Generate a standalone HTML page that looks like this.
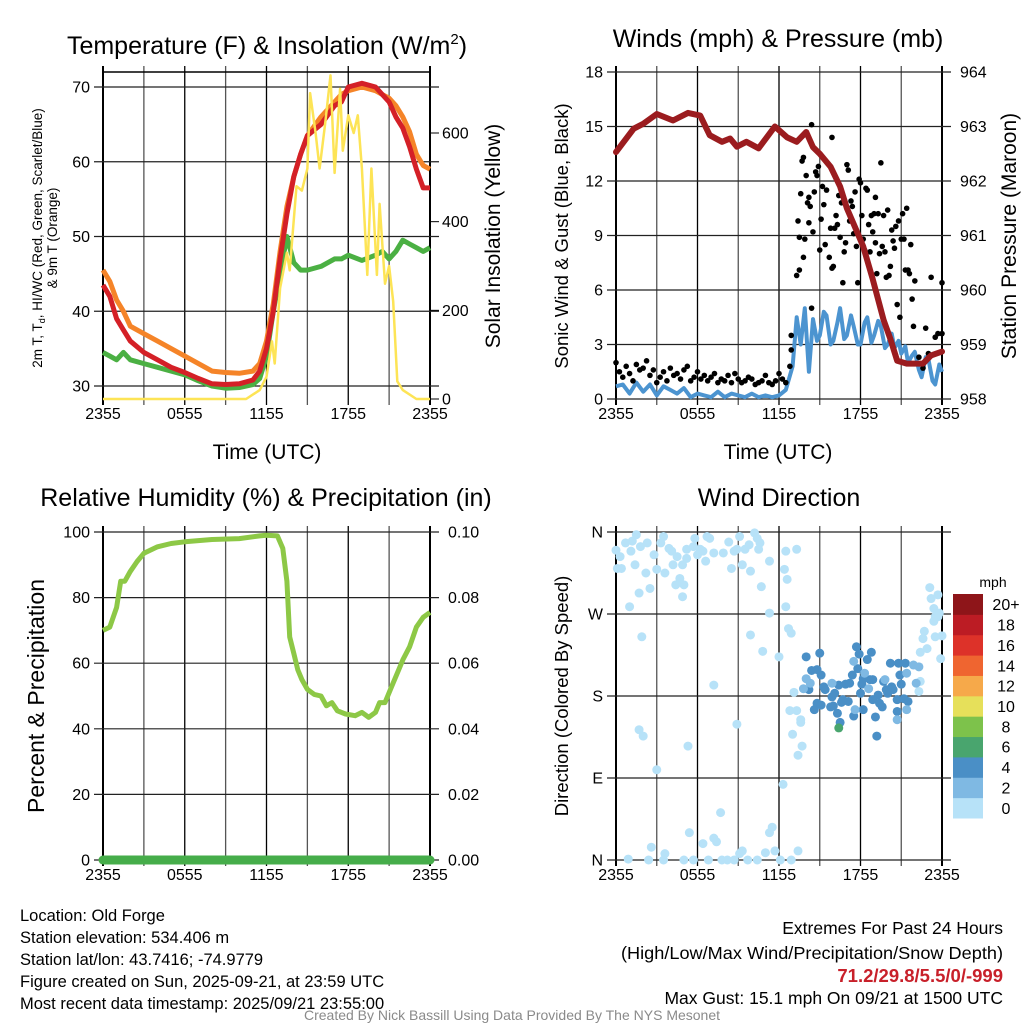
<!DOCTYPE html>
<html><head><meta charset="utf-8"><style>
html,body{margin:0;padding:0;background:#fff;}
svg{display:block;font-family:"Liberation Sans",sans-serif;}
</style></head><body>
<svg id="chart" width="1024" height="1024" viewBox="0 0 1024 1024" xmlns="http://www.w3.org/2000/svg">
<rect width="1024" height="1024" fill="#fff"/>
<g id="layer"></g>
<text x="267" y="54" font-size="25" text-anchor="middle">Temperature (F) &amp; Insolation (W/m<tspan dy="-10" font-size="15">2</tspan><tspan dy="10">)</tspan></text>
<text x="778" y="47" font-size="25" text-anchor="middle">Winds (mph) &amp; Pressure (mb)</text>
<text x="266" y="506" font-size="25" text-anchor="middle">Relative Humidity (%) &amp; Precipitation (in)</text>
<text x="779" y="506" font-size="25" text-anchor="middle">Wind Direction</text>
<text x="267" y="459" font-size="21" text-anchor="middle">Time (UTC)</text>
<text x="778" y="459" font-size="21" text-anchor="middle">Time (UTC)</text>
<g font-size="13.5" text-anchor="middle">
<text transform="translate(42,238) rotate(-90)">2m T, T<tspan font-size="9" dy="3">d</tspan><tspan dy="-3">, HI/WC (Red, Green, Scarlet/Blue)</tspan></text>
<text transform="translate(57,238) rotate(-90)">&amp; 9m T (Orange)</text>
</g>
<text transform="translate(500,236) rotate(-90)" font-size="21" text-anchor="middle">Solar Insolation (Yellow)</text>
<text transform="translate(568,236) rotate(-90)" font-size="18.5" text-anchor="middle">Sonic Wind &amp; Gust (Blue, Black)</text>
<text transform="translate(1016,236) rotate(-90)" font-size="21" text-anchor="middle">Station Pressure (Maroon)</text>
<text transform="translate(44,696) rotate(-90)" font-size="23" text-anchor="middle">Percent &amp; Precipitation</text>
<text transform="translate(568,696) rotate(-90)" font-size="18.5" text-anchor="middle">Direction (Colored By Speed)</text>
<text x="993" y="587" font-size="14" text-anchor="middle">mph</text>
<g font-size="16.5">
<text x="20" y="921">Location: Old Forge</text>
<text x="20" y="943">Station elevation: 534.406 m</text>
<text x="20" y="965">Station lat/lon: 43.7416; -74.9779</text>
<text x="20" y="987">Figure created on Sun, 2025-09-21, at 23:59 UTC</text>
<text x="20" y="1009">Most recent data timestamp: 2025/09/21 23:55:00</text>
</g>
<g font-size="17.5" text-anchor="end">
<text x="1003" y="934">Extremes For Past 24 Hours</text>
<text x="1003" y="959" textLength="382" lengthAdjust="spacingAndGlyphs">(High/Low/Max Wind/Precipitation/Snow Depth)</text>
<text x="1003" y="982" fill="#c8202a" font-weight="bold" font-size="18.5">71.2/29.8/5.5/0/-999</text>
<text x="1003" y="1004">Max Gust: 15.1 mph On 09/21 at 1500 UTC</text>
</g>
<text x="512" y="1020" font-size="14" fill="#8a8a8a" text-anchor="middle">Created By Nick Bassill Using Data Provided By The NYS Mesonet</text>
</svg>
<script>
// ---------- data ----------
const xTickLabels = ["2355","0555","1155","1755","2355"];
const tempTicks = [30,40,50,60,70];
const solarTicks = [0,200,400,600];
const windTicks = [0,3,6,9,12,15,18];
const presTicks = [958,959,960,961,962,963,964];
const rhTicks = [0,20,40,60,80,100];
const precipTicks = ["0.00","0.02","0.04","0.06","0.08","0.10"];
const dirTickLabels = ["N","E","S","W","N"];
const speedBins = ["0","2","4","6","8","10","12","14","16","18","20+"];
const speedColors = ["#b7e2f8","#7fb9e3","#4a8fc6","#49a56e","#7dc24b","#e6e05a","#f6a94a","#ef6530","#dd3229","#bc1c24","#8e1519"];

const tempTimes = [0,0.5,1,1.5,2,3,4,5,6,7,8,9,10,11,11.5,12,12.5,13,13.5,14,14.5,15,16,17,17.5,18,19,20,20.5,21,21.5,22,22.5,23,23.5,24];
const airTemp = [43.5,42,39,37.5,36,34.5,33.5,32.5,31.8,31,30.3,30.2,30.3,30.8,32,35,40,47,53,58,61,63.5,65,67.5,68,70,70.5,70,69,68,66,64.5,62,59,56.5,56.5];
const temp9m = [45.5,44,41.5,40,38,37,36,35,34,33,32,31.8,31.7,32,33,36,41,48,54,58,61,63.5,66,68,69,69.5,70,69.5,69,68.5,67.5,66,64,61,59.5,59];
const dewPoint = [34.5,34,33.5,34.5,33.5,33,32.5,32,31.5,30.7,30,29.7,29.8,30.2,31,34,40,45,50,46.5,45.5,45.5,46,47,47,47.5,46.8,47.5,48,47,48,49.5,49,48.5,48,48.5];

const solarTimes = [0,10.5,11.5,12,12.4,12.6,13,13.5,13.7,14.2,14.6,15,15.2,15.6,15.9,16.3,16.7,17,17.4,17.6,18,18.4,18.7,19,19.4,19.7,20.1,20.3,20.7,21,21.3,21.6,22,23,24];
const solarVals = [0,0,20,50,130,80,250,330,290,480,470,520,690,600,520,620,730,510,700,560,640,600,640,520,280,520,280,440,260,300,220,40,20,0,0];

const presTimes = [0,1.3,2,3,4.2,5.3,6.2,6.9,7.8,8.4,8.9,9.6,10.5,11.7,12.6,13.3,14,14.5,15,15.8,16.5,17,17.6,18.2,18.9,19.7,20.2,20.7,21.4,22.6,23.2,24];
const presVals = [962.53,962.96,963.05,963.23,963.11,963.25,963.2,962.84,962.72,962.78,962.63,962.72,962.6,963.0,962.8,962.72,962.9,962.62,962.5,962.26,961.9,961.5,961.15,960.8,960.2,959.45,959.1,958.7,958.65,958.65,958.8,958.87];

const windTimes = [0,0.5,1,1.5,2,2.5,3,3.5,4,4.5,5,5.5,6,6.5,7,7.5,8,8.5,9,9.5,10,10.5,11,11.5,12,12.5,13,13.3,13.6,13.9,14.2,14.5,14.8,15,15.3,15.5,15.8,16,16.3,16.5,16.8,17,17.3,17.5,17.8,18,18.3,18.5,18.8,19,19.3,19.5,19.8,20,20.3,20.5,20.8,21,21.3,21.5,21.8,22,22.3,22.5,22.8,23,23.3,23.5,23.8,24];
const windVals = [0.7,0.8,0.3,0.9,0.4,0.8,0.2,0.7,0.5,0.3,0.6,0.1,0.3,0.2,0.1,0.4,0.1,0.3,0.2,0.1,0.3,0.1,0.2,0.1,0.2,0.5,1.8,4.5,3.0,5.0,1.5,4.4,3.2,3.5,4.8,4.6,3.0,3.2,4.2,5.0,3.3,3.5,4.6,4.0,3.0,3.0,4.2,4.5,3.1,3.5,4.3,4.0,2.8,3.0,3.6,2.8,3.2,2.5,2.9,2.0,2.4,2.6,1.6,1.2,2.3,2.2,1.0,0.8,1.9,1.5];

const gustTimes = [0,0.25,0.5,0.75,1,1.25,1.5,1.75,2,2.25,2.5,2.75,3,3.25,3.5,3.75,4,4.25,4.5,4.75,5,5.25,5.5,5.75,6,6.25,6.5,6.75,7,7.25,7.5,7.75,8,8.25,8.5,8.75,9,9.25,9.5,9.75,10,10.25,10.5,10.75,11,11.25,11.5,11.75,12,12.25,12.5,12.8,12.9,12.9,13.3,13.4,13.5,13.5,13.6,13.7,13.8,13.8,13.9,14.0,14.1,14.2,14.2,14.3,14.4,14.4,14.5,14.6,14.7,14.8,14.9,15.0,15.1,15.2,15.3,15.4,15.5,15.7,15.8,15.9,15.9,16.0,16.1,16.2,16.3,16.4,16.5,16.6,16.7,16.8,16.9,17.0,17.1,17.2,17.3,17.4,17.5,17.6,17.7,17.8,17.9,18.0,18.1,18.2,18.3,18.4,18.5,18.6,18.7,18.8,18.9,19.0,19.1,19.1,19.2,19.3,19.4,19.5,19.6,19.7,19.8,19.9,20.0,20.1,20.2,20.3,20.4,20.5,20.6,20.7,20.8,20.9,21.0,21.1,21.2,21.3,21.4,21.5,21.6,21.7,21.8,21.9,22.0,22.3,22.6,22.8,23.0,23.2,23.5,23.7,24.0,24.0];
const gustVals = [2.0,1.5,1.2,1.8,1.4,1.0,1.9,1.6,1.7,2.1,1.3,1.6,0.9,1.2,1.5,1.0,1.7,1.3,1.4,1.1,1.6,1.8,1.0,1.2,1.5,1.1,1.3,1.0,1.2,1.4,0.9,1.1,1.0,1.3,0.9,1.4,1.1,0.9,1.0,1.2,1.1,0.8,0.9,1.0,1.3,0.9,0.8,1.0,1.4,1.1,0.9,1.8,2.7,3.5,6.8,9.8,8.9,7.1,11.3,13.1,13.3,7.8,8.8,12.3,10.8,11.1,9.7,10.6,15.1,5.0,9.2,11.4,12.5,12.3,12.8,8.2,9.9,11.7,10.7,8.5,11.5,7.8,9.4,14.4,7.2,7.3,9.4,10.1,9.6,11.2,8.9,10.8,6.4,8.1,8.6,12.9,12.6,9.8,10.9,10.6,9.1,11.4,8.4,6.4,12.1,11.9,10.1,8.8,8.2,11.6,11.5,9.6,8.1,10.1,9.2,10.2,11.1,8.6,6.9,10.2,8.0,13.0,8.4,10.1,8.1,6.7,10.4,6.8,7.3,9.3,8.7,8.3,9.5,5.2,9.8,4.5,8.8,10.2,8.8,7.1,10.5,7.1,6.9,8.5,5.5,4.0,6.5,2.3,1.7,3.9,2.5,6.7,3.4,3.6,6.4,3.6];

const rhTimes = [0,0.5,1,1.3,1.6,2,2.5,3,4,5,6,8,10,11.5,12,12.8,13.2,13.5,13.7,14,14.3,14.6,15,15.5,16,16.4,16.8,17.2,17.8,18.5,19,19.5,20,20.3,20.7,21.2,21.7,22,22.5,23,23.5,24];
const rhVals = [70,71,77,85,85,88,91,93.5,95.5,96.5,97,97.7,98,98.8,99,98.8,95,85,68,63,58,55,52,50.5,50,47,48,45.5,44.5,44,45,43.5,45,48,48,53,58,61,65,71,74,75.5];
const precipTimes = [0,24];
const precipVals = [0,0];

const dirTimes = [0,0.3,0.1,0.4,0.7,1.1,1.2,1.5,1.8,1.4,1.7,1.9,1.0,2.2,2.3,2.5,2.8,3.0,3.3,3.5,3.6,3.9,4.1,4.2,4.4,4.5,4.7,4.9,4.9,5.0,5.2,5.2,5.7,5.8,6.0,6.2,6.4,6.6,6.7,6.9,7.2,7.9,8.3,8.5,8.7,8.9,9.1,9.3,9.5,9.8,9.9,10.2,10.4,10.5,10.6,10.7,11.3,11.3,9.9,10.8,12.0,12.5,13.3,12.4,12.6,12.5,12.7,12.9,
0.9,2.4,2.6,3.5,3.6,5.0,5.4,5.7,6.4,6.8,7.2,7.4,7.7,7.8,8.2,8.7,9.1,9.3,9.7,10.4,11.0,11.3,11.5,11.7,12.1,12.9,13.4,12.3,
1.7,2.0,3.0,5.3,7.2,8.9,13.1,12.8,13.3,13.6,13.6,13.0,13.7,13.4,
23.1,23.2,23.7,23.4,23.5,23.7,23.4,23.8,23.5,24.0,22.7,22.6,22.9,22.4,23.9,22.4,22.3,
14.0,15.0,14.4,14.2,14.8,15.1,15.3,15.4,14.8,14.6,15.1,15.8,16.0,16.3,16.5,16.7,16.9,17.1,17.2,17.5,17.7,17.9,17.8,18.0,18.1,18.2,18.5,18.7,18.8,18.9,19.1,19.2,19.4,19.6,19.7,19.9,20.2,20.3,20.4,20.7,20.8,20.9,21.0,20.7,21.3,21.5,21.2,15.9,16.1,17.4,18.2,19.3,20.0,16.4,16.6,18.9,
13.8,14.0,14.3,15.9,17.5,17.6,18.3,18.6,19.8,21.4,20.7,21.9,22.1,22.3,21.4,
16.4];
const dirVals = [340,333,320,320,348,339,350,357,344,324,293,245,278,315,348,298,335,319,348,355,315,342,339,324,302,333,309,324,289,302,331,341,344,353,335,341,339,328,355,353,337,337,349,320,339,341,355,324,341,346,317,359,353,341,348,300,328,271,247,229,223,339,341,319,308,278,254,249,
1,0,14,0,7,0,30,0,18,0,24,20,52,0,0,0,7,10,0,0,8,30,36,10,0,0,10,83,
143,136,99,125,192,149,184,164,164,154,151,138,125,115,
299,287,291,276,267,267,262,271,245,246,251,243,232,228,221,196,185,
223,227,208,187,209,203,190,187,172,165,170,168,169,161,151,176,193,174,194,158,234,226,210,183,193,165,220,198,228,176,157,136,172,168,196,187,216,190,187,176,216,203,193,163,216,174,177,179,183,203,199,181,183,192,173,198,
188,199,194,194,218,165,205,188,198,165,154,214,194,212,205,
145];
const dirSpeeds = [1,1,1,1,1,1,1,1,1,1,1,1,1,1,1,1,1,1,1,1,1,1,1,1,1,1,1,1,1,1,1,1,1,1,1,1,1,1,1,1,1,1,1,1,1,1,1,1,1,1,1,1,1,1,1,1,1,1,1,1,1,1,1,1,1,1,1,1,
1,1,1,1,1,1,1,1,1,1,1,1,1,1,1,1,1,1,1,1,1,1,1,1,1,1,1,1,
1,1,1,1,1,1,1,1,1,1,1,1,1,1,
1,1,1,1,1,1,1,1,1,1,1,1,1,1,1,1,1,
4,4,4,4,4,4,4,4,4,4,4,4,4,4,4,4,4,4,4,4,4,4,4,4,4,4,4,4,4,4,4,4,4,4,4,4,4,4,4,4,4,4,4,4,4,4,4,4,4,4,4,4,4,4,4,4,
3,3,3,3,3,3,3,3,3,3,3,3,3,3,3,
6.5];

// ---------- drawing ----------
const NS = "http://www.w3.org/2000/svg";
const layer = document.getElementById("layer");
function mk(tag, attrs, parent){
  const e = document.createElementNS(NS, tag);
  for (const k in attrs) e.setAttribute(k, attrs[k]);
  (parent||layer).appendChild(e);
  return e;
}
function scale(d0,d1,r0,r1){ return v => r0 + (v-d0)/(d1-d0)*(r1-r0); }

function frame(P, name){
  const g = mk("g", {});
  
  
  const xs = scale(0,24,P.x0,P.x1);
  for (let h=0; h<=24; h+=3){
    const gl = mk("line",{x1:xs(h),x2:xs(h),y1:P.y0-6,y2:P.y1+6,stroke:(h%6===0)?"#000":"#555","stroke-width":(h===0||h===24)?2:1.3},g);
    
    
  }
  for (let i=0;i<xTickLabels.length;i++){
    const t = mk("text",{x:xs(i*6),y:P.y1+20,"font-size":16,"text-anchor":"middle"},g);
    t.textContent = xTickLabels[i];
    
    
  }
  return {g, xs};
}
function hgrid(P, g, ys, ticks, labels, side){
  for (let i=0;i<ticks.length;i++){
    const y = ys(ticks[i]);
    const l = mk("line",{x1:P.x0-9,x2:P.x1+9,y1:y,y2:y,stroke:"#222","stroke-width":1.2},g);
    
    
    const t = mk("text",{x: side==="left"? P.x0-13 : P.x1+12, y:y+5.5,"font-size":16,"text-anchor": side==="left"?"end":"start"},g);
    t.textContent = labels[i];
    
    
  }
}
function linePath(xs, ys, T, V){
  return T.map((t,i)=>(i?"L":"M")+xs(t).toFixed(1)+","+ys(V[i]).toFixed(1)).join("");
}

// Panel 1
const P1 = {x0:103,x1:430,y0:72,y1:399};
const f1 = frame(P1,'temperature');
const yT = scale(30,70,386,87);
const yS = scale(0,600,399,133);
hgrid(P1, f1.g, yT, tempTicks, tempTicks.map(String), "left");
for (let i=0;i<solarTicks.length;i++){
  const t = mk("text",{x:P1.x1+12,y:yS(solarTicks[i])+5.5,"font-size":16},f1.g);
  t.textContent = solarTicks[i];
  
  
  const tk = mk("line",{x1:P1.x1,x2:P1.x1+9,y1:yS(solarTicks[i]),y2:yS(solarTicks[i]),stroke:"#000"},f1.g);
  
  
}
mk("line",{x1:P1.x0,x2:P1.x1,y1:P1.y0,y2:P1.y0,stroke:"#000","stroke-width":1.5},f1.g);
let s;
s = mk("path",{d:linePath(f1.xs,yT,tempTimes,dewPoint),fill:"none",stroke:"#4bb043","stroke-width":5,"stroke-linejoin":"round"});
 
s = mk("path",{d:linePath(f1.xs,yT,tempTimes,temp9m),fill:"none",stroke:"#f58428","stroke-width":5,"stroke-linejoin":"round"});
 
s = mk("path",{d:linePath(f1.xs,yT,tempTimes,airTemp),fill:"none",stroke:"#d42027","stroke-width":5,"stroke-linejoin":"round"});
 
s = mk("path",{d:linePath(f1.xs,yS,solarTimes,solarVals),fill:"none",stroke:"#fde456","stroke-width":2.5,"stroke-linejoin":"round"});
 

// Panel 2
const P2 = {x0:616,x1:942,y0:72,y1:399};
const f2 = frame(P2,'winds');
const yW = scale(0,18,399,72);
const yP = scale(958,964,399,72);
hgrid(P2, f2.g, yW, windTicks, windTicks.map(String), "left");
for (let i=0;i<presTicks.length;i++){
  const t = mk("text",{x:P2.x1+18,y:yP(presTicks[i])+5.5,"font-size":16},f2.g);
  t.textContent = presTicks[i];
  
  
}
s = mk("path",{d:linePath(f2.xs,yW,windTimes,windVals),fill:"none",stroke:"#4c94d0","stroke-width":4,"stroke-linejoin":"round"});
 
for (let i=0;i<gustTimes.length;i++){
  const c = mk("circle",{cx:f2.xs(gustTimes[i]),cy:yW(gustVals[i]),r:2.8,fill:"#000"});
  
  
}
s = mk("path",{d:linePath(f2.xs,yP,presTimes,presVals),fill:"none",stroke:"#9b1c1f","stroke-width":6,"stroke-linejoin":"round","stroke-linecap":"round"});
 

// Panel 3
const P3 = {x0:103,x1:430,y0:532,y1:860};
const f3 = frame(P3,'humidity');
const yR = scale(0,100,860,532);
const yPr = scale(0,0.1,860,532);
hgrid(P3, f3.g, yR, rhTicks, rhTicks.map(String), "left");
for (let i=0;i<precipTicks.length;i++){
  const t = mk("text",{x:P3.x1+18,y:yPr(parseFloat(precipTicks[i]))+5.5,"font-size":16},f3.g);
  t.textContent = precipTicks[i];
  
  
}
s = mk("path",{d:linePath(f3.xs,yR,rhTimes,rhVals),fill:"none",stroke:"#8dc846","stroke-width":5,"stroke-linejoin":"round"});
 
s = mk("path",{d:linePath(f3.xs,yPr,precipTimes,precipVals),fill:"none",stroke:"#46ad4a","stroke-width":9,"stroke-linecap":"round"});
 

// Panel 4
const P4 = {x0:616,x1:942,y0:532,y1:860};
const f4 = frame(P4,'wind-direction');
const yD = scale(0,360,860,532);
hgrid(P4, f4.g, yD, [0,90,180,270,360], dirTickLabels, "left");
for (let i=0;i<dirTimes.length;i++){
  const bin = Math.min(10, Math.floor(dirSpeeds[i]/2));
  const c = mk("circle",{cx:f4.xs(dirTimes[i]),cy:yD(dirVals[i]),r:4.5,fill:speedColors[bin]});
  
  
}
// colorbar
const cb = mk("g",{});


const cbH = (818-594)/speedBins.length;
for (let i=0;i<speedBins.length;i++){
  const y = 818 - (i+1)*cbH;
  const r = mk("rect",{x:953,y:y,width:30,height:cbH+0.5,fill:speedColors[i]},cb);
  
  
  const t = mk("text",{x:1006,y:y+cbH/2+6,"font-size":16,"text-anchor":"middle"},cb);
  t.textContent = speedBins[i];
  
  
}
</script>
</body></html>
